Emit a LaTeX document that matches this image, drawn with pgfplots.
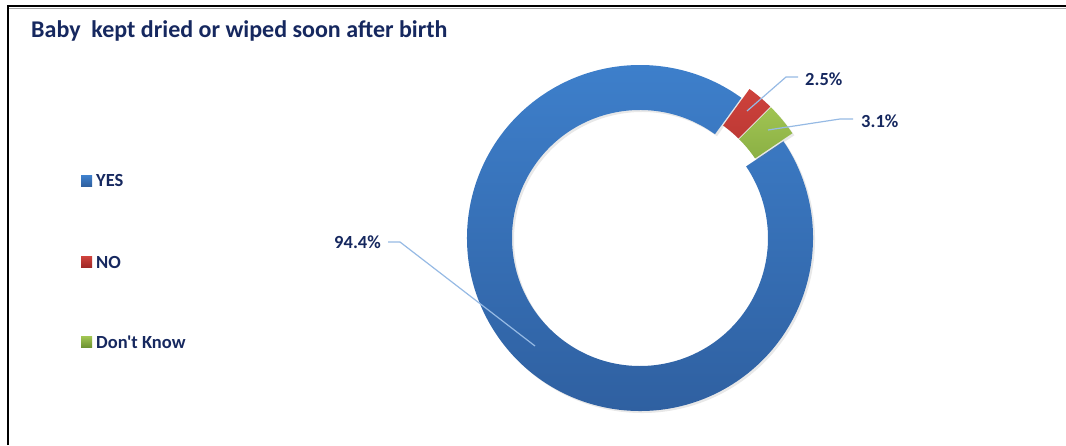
\documentclass[border=0pt]{standalone}
\usepackage{pgfplots}
\pgfplotsset{compat=1.18}
\usepackage{fontspec}
\setmainfont{Carlito}[Ligatures=TeXOff]
\usetikzlibrary{shadows}

\definecolor{txt}{RGB}{22,40,95}
\definecolor{yesT}{RGB}{62,128,204}
\definecolor{yesB}{RGB}{46,94,158}
\definecolor{noT}{RGB}{206,66,60}
\definecolor{noB}{RGB}{158,40,38}
\definecolor{dkT}{RGB}{160,196,82}
\definecolor{dkB}{RGB}{108,146,48}
\definecolor{lead}{RGB}{150,186,228}

% data (percent)
\def\vA{94.4}% YES
\def\vB{2.5}%  NO
\def\vC{3.1}%  Don't Know

% geometry (1 unit = 1bp = 1px)
\def\ro{173}
\def\ri{128}
\def\ex{6}
\pgfmathsetmacro\aA{34}
\pgfmathsetmacro\aB{\aA-\vA*3.6}
\pgfmathsetmacro\aC{\aB-\vB*3.6}
\pgfmathsetmacro\aD{\aC-\vC*3.6}
\pgfmathsetmacro\mA{(\aA+\aB)/2}
\pgfmathsetmacro\mB{(\aB+\aC)/2}
\pgfmathsetmacro\mC{(\aC+\aD)/2}
\pgfmathsetmacro\bx{640-\ex*cos(\mA)}
\pgfmathsetmacro\by{207-\ex*sin(\mA)}

\begin{document}
\begin{tikzpicture}
\begin{axis}[
  scale only axis, width=1066bp, height=445bp,
  xmin=0, xmax=1066, ymin=0, ymax=445,
  hide axis, clip=false,
]
\coordinate (SW) at (rel axis cs:0,0);
\coordinate (NE) at (rel axis cs:1,1);
% frame
\draw[black!35, line width=1bp] (axis cs:9,{445-8.5}) -- (axis cs:1066,{445-8.5});
\draw[black, line width=2bp] (axis cs:8,0) -- (axis cs:8,{445-6}) -- (axis cs:1066,{445-6});
% title
\node[anchor=base west, text=txt, font=\fontsize{24bp}{28bp}\selectfont\bfseries, inner sep=0pt]
  at (axis cs:31,{445-38}) {Baby\ \ kept dried or wiped soon after birth};
% slices
\shade[top color=yesT, bottom color=yesB, drop shadow={opacity=0.18, shadow xshift=2bp, shadow yshift=-2bp}]
  (axis cs:\bx,\by) ++(\mA:\ex bp) ++(\aA:\ro bp)
  arc[start angle=\aA, end angle=\aB, radius=\ro bp]
  -- ++(\aB+180:{\ro bp-\ri bp})
  arc[start angle=\aB, end angle=\aA, radius=\ri bp] -- cycle;
\shade[top color=noT, bottom color=noB, drop shadow={opacity=0.18, shadow xshift=2bp, shadow yshift=-2bp}]
  (axis cs:\bx,\by) ++(\mB:\ex bp) ++(\aB:\ro bp)
  arc[start angle=\aB, end angle=\aC, radius=\ro bp]
  -- ++(\aC+180:{\ro bp-\ri bp})
  arc[start angle=\aC, end angle=\aB, radius=\ri bp] -- cycle;
\shade[top color=dkT, bottom color=dkB, drop shadow={opacity=0.18, shadow xshift=2bp, shadow yshift=-2bp}]
  (axis cs:\bx,\by) ++(\mC:\ex bp) ++(\aC:\ro bp)
  arc[start angle=\aC, end angle=\aD, radius=\ro bp]
  -- ++(\aD+180:{\ro bp-\ri bp})
  arc[start angle=\aD, end angle=\aC, radius=\ri bp] -- cycle;
% leader lines
\draw[lead, line width=1.2bp] (axis cs:388,{445-242}) -- (axis cs:400,{445-242}) -- (axis cs:535,{445-346});
\draw[lead, line width=1.2bp] (axis cs:747,{445-111}) -- (axis cs:786,{445-77}) -- (axis cs:798,{445-77});
\draw[lead, line width=1.2bp] (axis cs:768,{445-130}) -- (axis cs:840,{445-119}) -- (axis cs:853,{445-119});
% labels
\begin{scope}[every node/.style={text=txt, font=\fontsize{18.5bp}{22bp}\selectfont\bfseries, inner sep=0pt}]
\node[anchor=east] at (axis cs:381,{445-242}) {\vA\%};
\node[anchor=west] at (axis cs:805,{445-79}) {\vB\%};
\node[anchor=west] at (axis cs:861,{445-121}) {\vC\%};
% legend
\shade[top color=yesT, bottom color=yesB] (axis cs:81,{445-175.5}) rectangle (axis cs:92,{445-186.5});
\node[anchor=west] at (axis cs:96,{445-181}) {YES};
\shade[top color=noT, bottom color=noB] (axis cs:81,{445-256.5}) rectangle (axis cs:92,{445-267.5});
\node[anchor=west] at (axis cs:96,{445-262}) {NO};
\shade[top color=dkT, bottom color=dkB] (axis cs:81,{445-336.5}) rectangle (axis cs:92,{445-347.5});
\node[anchor=west] at (axis cs:96,{445-342}) {Don't Know};
\end{scope}
\end{axis}
\pgfresetboundingbox
\path[use as bounding box] (SW) rectangle (NE);
\end{tikzpicture}
\end{document}
